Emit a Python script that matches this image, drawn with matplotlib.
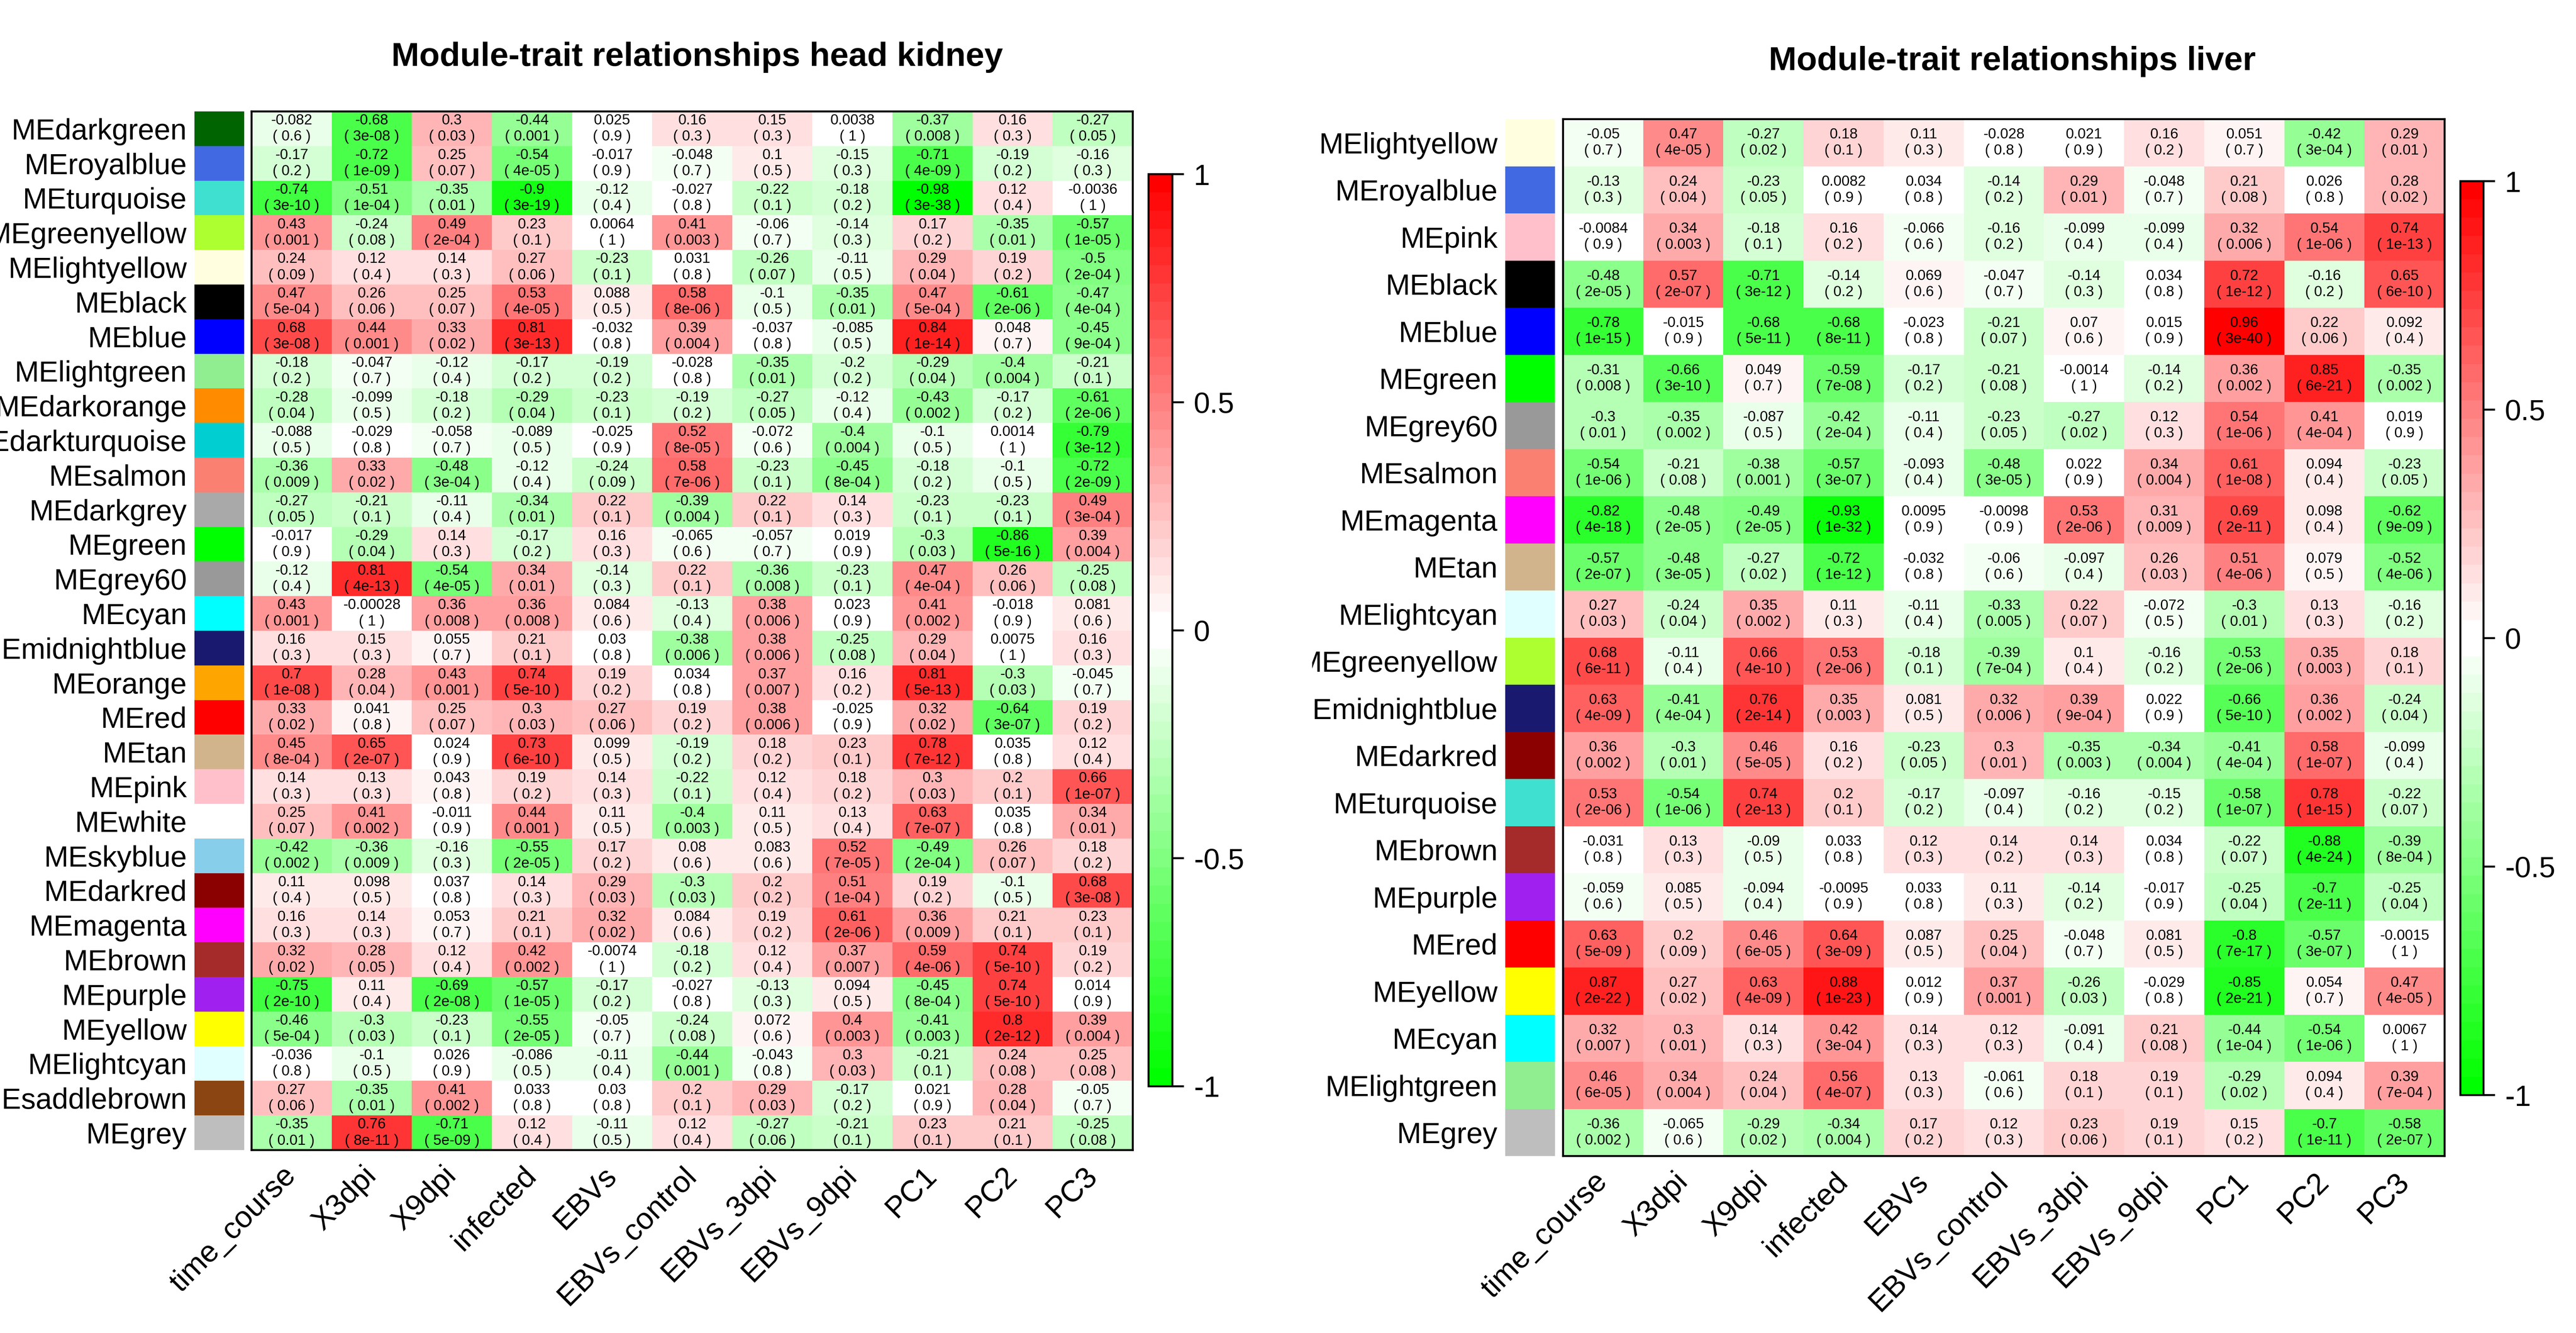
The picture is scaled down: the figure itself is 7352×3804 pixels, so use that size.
import numpy as np
import matplotlib
matplotlib.use("Agg")
import matplotlib.pyplot as plt
from matplotlib.colors import ListedColormap
from matplotlib.transforms import Bbox, TransformedBbox

plt.rcParams['font.family'] = ['Liberation Sans', 'DejaVu Sans']

traits = ["time_course", "X3dpi", "X9dpi", "infected", "EBVs", "EBVs_control",
          "EBVs_3dpi", "EBVs_9dpi", "PC1", "PC2", "PC3"]

# ---- head kidney ----
hk_modules = ["MEdarkgreen", "MEroyalblue", "MEturquoise", "MEgreenyellow", "MElightyellow",
              "MEblack", "MEblue", "MElightgreen", "MEdarkorange", "MEdarkturquoise",
              "MEsalmon", "MEdarkgrey", "MEgreen", "MEgrey60", "MEcyan", "MEmidnightblue",
              "MEorange", "MEred", "MEtan", "MEpink", "MEwhite", "MEskyblue", "MEdarkred",
              "MEmagenta", "MEbrown", "MEpurple", "MEyellow", "MElightcyan",
              "MEsaddlebrown", "MEgrey"]

hk_cor = [
    [-0.082, -0.68, 0.3, -0.44, 0.025, 0.16, 0.15, 0.0038, -0.37, 0.16, -0.27],
    [-0.17, -0.72, 0.25, -0.54, -0.017, -0.048, 0.1, -0.15, -0.71, -0.19, -0.16],
    [-0.74, -0.51, -0.35, -0.9, -0.12, -0.027, -0.22, -0.18, -0.98, 0.12, -0.0036],
    [0.43, -0.24, 0.49, 0.23, 0.0064, 0.41, -0.06, -0.14, 0.17, -0.35, -0.57],
    [0.24, 0.12, 0.14, 0.27, -0.23, 0.031, -0.26, -0.11, 0.29, 0.19, -0.5],
    [0.47, 0.26, 0.25, 0.53, 0.088, 0.58, -0.1, -0.35, 0.47, -0.61, -0.47],
    [0.68, 0.44, 0.33, 0.81, -0.032, 0.39, -0.037, -0.085, 0.84, 0.048, -0.45],
    [-0.18, -0.047, -0.12, -0.17, -0.19, -0.028, -0.35, -0.2, -0.29, -0.4, -0.21],
    [-0.28, -0.099, -0.18, -0.29, -0.23, -0.19, -0.27, -0.12, -0.43, -0.17, -0.61],
    [-0.088, -0.029, -0.058, -0.089, -0.025, 0.52, -0.072, -0.4, -0.1, 0.0014, -0.79],
    [-0.36, 0.33, -0.48, -0.12, -0.24, 0.58, -0.23, -0.45, -0.18, -0.1, -0.72],
    [-0.27, -0.21, -0.11, -0.34, 0.22, -0.39, 0.22, 0.14, -0.23, -0.23, 0.49],
    [-0.017, -0.29, 0.14, -0.17, 0.16, -0.065, -0.057, 0.019, -0.3, -0.86, 0.39],
    [-0.12, 0.81, -0.54, 0.34, -0.14, 0.22, -0.36, -0.23, 0.47, 0.26, -0.25],
    [0.43, -0.00028, 0.36, 0.36, 0.084, -0.13, 0.38, 0.023, 0.41, -0.018, 0.081],
    [0.16, 0.15, 0.055, 0.21, 0.03, -0.38, 0.38, -0.25, 0.29, 0.0075, 0.16],
    [0.7, 0.28, 0.43, 0.74, 0.19, 0.034, 0.37, 0.16, 0.81, -0.3, -0.045],
    [0.33, 0.041, 0.25, 0.3, 0.27, 0.19, 0.38, -0.025, 0.32, -0.64, 0.19],
    [0.45, 0.65, 0.024, 0.73, 0.099, -0.19, 0.18, 0.23, 0.78, 0.035, 0.12],
    [0.14, 0.13, 0.043, 0.19, 0.14, -0.22, 0.12, 0.18, 0.3, 0.2, 0.66],
    [0.25, 0.41, -0.011, 0.44, 0.11, -0.4, 0.11, 0.13, 0.63, 0.035, 0.34],
    [-0.42, -0.36, -0.16, -0.55, 0.17, 0.08, 0.083, 0.52, -0.49, 0.26, 0.18],
    [0.11, 0.098, 0.037, 0.14, 0.29, -0.3, 0.2, 0.51, 0.19, -0.1, 0.68],
    [0.16, 0.14, 0.053, 0.21, 0.32, 0.084, 0.19, 0.61, 0.36, 0.21, 0.23],
    [0.32, 0.28, 0.12, 0.42, -0.0074, -0.18, 0.12, 0.37, 0.59, 0.74, 0.19],
    [-0.75, 0.11, -0.69, -0.57, -0.17, -0.027, -0.13, 0.094, -0.45, 0.74, 0.014],
    [-0.46, -0.3, -0.23, -0.55, -0.05, -0.24, 0.072, 0.4, -0.41, 0.8, 0.39],
    [-0.036, -0.1, 0.026, -0.086, -0.11, -0.44, -0.043, 0.3, -0.21, 0.24, 0.25],
    [0.27, -0.35, 0.41, 0.033, 0.03, 0.2, 0.29, -0.17, 0.021, 0.28, -0.05],
    [-0.35, 0.76, -0.71, 0.12, -0.11, 0.12, -0.27, -0.21, 0.23, 0.21, -0.25],
]

hk_p = [
    [0.6, 3e-08, 0.03, 0.001, 0.9, 0.3, 0.3, 1, 0.008, 0.3, 0.05],
    [0.2, 1e-09, 0.07, 4e-05, 0.9, 0.7, 0.5, 0.3, 4e-09, 0.2, 0.3],
    [3e-10, 1e-04, 0.01, 3e-19, 0.4, 0.8, 0.1, 0.2, 3e-38, 0.4, 1],
    [0.001, 0.08, 2e-04, 0.1, 1, 0.003, 0.7, 0.3, 0.2, 0.01, 1e-05],
    [0.09, 0.4, 0.3, 0.06, 0.1, 0.8, 0.07, 0.5, 0.04, 0.2, 2e-04],
    [5e-04, 0.06, 0.07, 4e-05, 0.5, 8e-06, 0.5, 0.01, 5e-04, 2e-06, 4e-04],
    [3e-08, 0.001, 0.02, 3e-13, 0.8, 0.004, 0.8, 0.5, 1e-14, 0.7, 9e-04],
    [0.2, 0.7, 0.4, 0.2, 0.2, 0.8, 0.01, 0.2, 0.04, 0.004, 0.1],
    [0.04, 0.5, 0.2, 0.04, 0.1, 0.2, 0.05, 0.4, 0.002, 0.2, 2e-06],
    [0.5, 0.8, 0.7, 0.5, 0.9, 8e-05, 0.6, 0.004, 0.5, 1, 3e-12],
    [0.009, 0.02, 3e-04, 0.4, 0.09, 7e-06, 0.1, 8e-04, 0.2, 0.5, 2e-09],
    [0.05, 0.1, 0.4, 0.01, 0.1, 0.004, 0.1, 0.3, 0.1, 0.1, 3e-04],
    [0.9, 0.04, 0.3, 0.2, 0.3, 0.6, 0.7, 0.9, 0.03, 5e-16, 0.004],
    [0.4, 4e-13, 4e-05, 0.01, 0.3, 0.1, 0.008, 0.1, 4e-04, 0.06, 0.08],
    [0.001, 1, 0.008, 0.008, 0.6, 0.4, 0.006, 0.9, 0.002, 0.9, 0.6],
    [0.3, 0.3, 0.7, 0.1, 0.8, 0.006, 0.006, 0.08, 0.04, 1, 0.3],
    [1e-08, 0.04, 0.001, 5e-10, 0.2, 0.8, 0.007, 0.2, 5e-13, 0.03, 0.7],
    [0.02, 0.8, 0.07, 0.03, 0.06, 0.2, 0.006, 0.9, 0.02, 3e-07, 0.2],
    [8e-04, 2e-07, 0.9, 6e-10, 0.5, 0.2, 0.2, 0.1, 7e-12, 0.8, 0.4],
    [0.3, 0.3, 0.8, 0.2, 0.3, 0.1, 0.4, 0.2, 0.03, 0.1, 1e-07],
    [0.07, 0.002, 0.9, 0.001, 0.5, 0.003, 0.5, 0.4, 7e-07, 0.8, 0.01],
    [0.002, 0.009, 0.3, 2e-05, 0.2, 0.6, 0.6, 7e-05, 2e-04, 0.07, 0.2],
    [0.4, 0.5, 0.8, 0.3, 0.03, 0.03, 0.2, 1e-04, 0.2, 0.5, 3e-08],
    [0.3, 0.3, 0.7, 0.1, 0.02, 0.6, 0.2, 2e-06, 0.009, 0.1, 0.1],
    [0.02, 0.05, 0.4, 0.002, 1, 0.2, 0.4, 0.007, 4e-06, 5e-10, 0.2],
    [2e-10, 0.4, 2e-08, 1e-05, 0.2, 0.8, 0.3, 0.5, 8e-04, 5e-10, 0.9],
    [5e-04, 0.03, 0.1, 2e-05, 0.7, 0.08, 0.6, 0.003, 0.003, 2e-12, 0.004],
    [0.8, 0.5, 0.9, 0.5, 0.4, 0.001, 0.8, 0.03, 0.1, 0.08, 0.08],
    [0.06, 0.01, 0.002, 0.8, 0.8, 0.1, 0.03, 0.2, 0.9, 0.04, 0.7],
    [0.01, 8e-11, 5e-09, 0.4, 0.5, 0.4, 0.06, 0.1, 0.1, 0.1, 0.08],
]

# ---- liver ----
lv_modules = ["MElightyellow", "MEroyalblue", "MEpink", "MEblack", "MEblue", "MEgreen",
              "MEgrey60", "MEsalmon", "MEmagenta", "MEtan", "MElightcyan", "MEgreenyellow",
              "MEmidnightblue", "MEdarkred", "MEturquoise", "MEbrown", "MEpurple", "MEred",
              "MEyellow", "MEcyan", "MElightgreen", "MEgrey"]

lv_cor = [
    [-0.05, 0.47, -0.27, 0.18, 0.11, -0.028, 0.021, 0.16, 0.051, -0.42, 0.29],
    [-0.13, 0.24, -0.23, 0.0082, 0.034, -0.14, 0.29, -0.048, 0.21, 0.026, 0.28],
    [-0.0084, 0.34, -0.18, 0.16, -0.066, -0.16, -0.099, -0.099, 0.32, 0.54, 0.74],
    [-0.48, 0.57, -0.71, -0.14, 0.069, -0.047, -0.14, 0.034, 0.72, -0.16, 0.65],
    [-0.78, -0.015, -0.68, -0.68, -0.023, -0.21, 0.07, 0.015, 0.96, 0.22, 0.092],
    [-0.31, -0.66, 0.049, -0.59, -0.17, -0.21, -0.0014, -0.14, 0.36, 0.85, -0.35],
    [-0.3, -0.35, -0.087, -0.42, -0.11, -0.23, -0.27, 0.12, 0.54, 0.41, 0.019],
    [-0.54, -0.21, -0.38, -0.57, -0.093, -0.48, 0.022, 0.34, 0.61, 0.094, -0.23],
    [-0.82, -0.48, -0.49, -0.93, 0.0095, -0.0098, 0.53, 0.31, 0.69, 0.098, -0.62],
    [-0.57, -0.48, -0.27, -0.72, -0.032, -0.06, -0.097, 0.26, 0.51, 0.079, -0.52],
    [0.27, -0.24, 0.35, 0.11, -0.11, -0.33, 0.22, -0.072, -0.3, 0.13, -0.16],
    [0.68, -0.11, 0.66, 0.53, -0.18, -0.39, 0.1, -0.16, -0.53, 0.35, 0.18],
    [0.63, -0.41, 0.76, 0.35, 0.081, 0.32, 0.39, 0.022, -0.66, 0.36, -0.24],
    [0.36, -0.3, 0.46, 0.16, -0.23, 0.3, -0.35, -0.34, -0.41, 0.58, -0.099],
    [0.53, -0.54, 0.74, 0.2, -0.17, -0.097, -0.16, -0.15, -0.58, 0.78, -0.22],
    [-0.031, 0.13, -0.09, 0.033, 0.12, 0.14, 0.14, 0.034, -0.22, -0.88, -0.39],
    [-0.059, 0.085, -0.094, -0.0095, 0.033, 0.11, -0.14, -0.017, -0.25, -0.7, -0.25],
    [0.63, 0.2, 0.46, 0.64, 0.087, 0.25, -0.048, 0.081, -0.8, -0.57, -0.0015],
    [0.87, 0.27, 0.63, 0.88, 0.012, 0.37, -0.26, -0.029, -0.85, 0.054, 0.47],
    [0.32, 0.3, 0.14, 0.42, 0.14, 0.12, -0.091, 0.21, -0.44, -0.54, 0.0067],
    [0.46, 0.34, 0.24, 0.56, 0.13, -0.061, 0.18, 0.19, -0.29, 0.094, 0.39],
    [-0.36, -0.065, -0.29, -0.34, 0.17, 0.12, 0.23, 0.19, 0.15, -0.7, -0.58],
]

lv_p = [
    [0.7, 4e-05, 0.02, 0.1, 0.3, 0.8, 0.9, 0.2, 0.7, 3e-04, 0.01],
    [0.3, 0.04, 0.05, 0.9, 0.8, 0.2, 0.01, 0.7, 0.08, 0.8, 0.02],
    [0.9, 0.003, 0.1, 0.2, 0.6, 0.2, 0.4, 0.4, 0.006, 1e-06, 1e-13],
    [2e-05, 2e-07, 3e-12, 0.2, 0.6, 0.7, 0.3, 0.8, 1e-12, 0.2, 6e-10],
    [1e-15, 0.9, 5e-11, 8e-11, 0.8, 0.07, 0.6, 0.9, 3e-40, 0.06, 0.4],
    [0.008, 3e-10, 0.7, 7e-08, 0.2, 0.08, 1, 0.2, 0.002, 6e-21, 0.002],
    [0.01, 0.002, 0.5, 2e-04, 0.4, 0.05, 0.02, 0.3, 1e-06, 4e-04, 0.9],
    [1e-06, 0.08, 0.001, 3e-07, 0.4, 3e-05, 0.9, 0.004, 1e-08, 0.4, 0.05],
    [4e-18, 2e-05, 2e-05, 1e-32, 0.9, 0.9, 2e-06, 0.009, 2e-11, 0.4, 9e-09],
    [2e-07, 3e-05, 0.02, 1e-12, 0.8, 0.6, 0.4, 0.03, 4e-06, 0.5, 4e-06],
    [0.03, 0.04, 0.002, 0.3, 0.4, 0.005, 0.07, 0.5, 0.01, 0.3, 0.2],
    [6e-11, 0.4, 4e-10, 2e-06, 0.1, 7e-04, 0.4, 0.2, 2e-06, 0.003, 0.1],
    [4e-09, 4e-04, 2e-14, 0.003, 0.5, 0.006, 9e-04, 0.9, 5e-10, 0.002, 0.04],
    [0.002, 0.01, 5e-05, 0.2, 0.05, 0.01, 0.003, 0.004, 4e-04, 1e-07, 0.4],
    [2e-06, 1e-06, 2e-13, 0.1, 0.2, 0.4, 0.2, 0.2, 1e-07, 1e-15, 0.07],
    [0.8, 0.3, 0.5, 0.8, 0.3, 0.2, 0.3, 0.8, 0.07, 4e-24, 8e-04],
    [0.6, 0.5, 0.4, 0.9, 0.8, 0.3, 0.2, 0.9, 0.04, 2e-11, 0.04],
    [5e-09, 0.09, 6e-05, 3e-09, 0.5, 0.04, 0.7, 0.5, 7e-17, 3e-07, 1],
    [2e-22, 0.02, 4e-09, 1e-23, 0.9, 0.001, 0.03, 0.8, 2e-21, 0.7, 4e-05],
    [0.007, 0.01, 0.3, 3e-04, 0.3, 0.3, 0.4, 0.08, 1e-04, 1e-06, 1],
    [6e-05, 0.004, 0.04, 4e-07, 0.3, 0.6, 0.1, 0.1, 0.02, 0.4, 7e-04],
    [0.002, 0.6, 0.02, 0.004, 0.2, 0.3, 0.06, 0.1, 0.2, 1e-11, 2e-07],
]

# R colour names used by the module eigengenes
R_COLORS = {
    "darkgreen": "#006400", "royalblue": "#4169E1", "turquoise": "#40E0D0",
    "greenyellow": "#ADFF2F", "lightyellow": "#FFFFE0", "black": "#000000",
    "blue": "#0000FF", "lightgreen": "#90EE90", "darkorange": "#FF8C00",
    "darkturquoise": "#00CED1", "salmon": "#FA8072", "darkgrey": "#A9A9A9",
    "green": "#00FF00", "grey60": "#999999", "cyan": "#00FFFF",
    "midnightblue": "#191970", "orange": "#FFA500", "red": "#FF0000",
    "tan": "#D2B48C", "pink": "#FFC0CB", "white": "#FFFFFF", "skyblue": "#87CEEB",
    "darkred": "#8B0000", "magenta": "#FF00FF", "brown": "#A52A2A",
    "purple": "#A020F0", "yellow": "#FFFF00", "lightcyan": "#E0FFFF",
    "saddlebrown": "#8B4513", "grey": "#BEBEBE",
}

# green-white-red palette with 50 steps (like WGCNA greenWhiteRed(50))
half = 25
ramp = np.linspace(0, 1, half)
red = np.concatenate([ramp, np.ones(half)])
green = np.concatenate([np.ones(half), ramp[::-1]])
blue = np.concatenate([ramp, ramp[::-1]])
cmap = ListedColormap(np.column_stack([red, green, blue]))

W, H = 7352, 3804
DPI = 400
fig = plt.figure(figsize=(W / DPI, H / DPI), dpi=DPI)


def px_axes(x0, y0, x1, y1):
    return fig.add_axes([x0 / W, 1 - y1 / H, (x1 - x0) / W, (y1 - y0) / H])


def r_num(v):
    fixed = np.format_float_positional(v, trim='-')
    sci = np.format_float_scientific(v, trim='-', exp_digits=2)
    return sci if len(sci) < len(fixed) else fixed


def draw_panel(modules, cor, pval, title, hm_box, sw_box, cb_box, title_xy, clip_x=None):
    cor = np.array(cor)
    pval = np.array(pval)
    n, m = cor.shape

    ax = px_axes(*hm_box)
    mesh = ax.pcolormesh(np.arange(m + 1), np.arange(n + 1), cor, cmap=cmap,
                         vmin=-1, vmax=1, edgecolors='none', antialiased=False)
    ax.set_xlim(0, m)
    ax.set_ylim(n, 0)
    for i in range(n):
        for j in range(m):
            ax.text(j + 0.5, i + 0.5, f"{r_num(cor[i, j])}\n( {r_num(pval[i, j])} )",
                    ha='center', va='center', fontsize=7.5, linespacing=1.2)
    ax.set_yticks([])
    ax.set_xticks(np.arange(m) + 0.5, traits)
    ax.tick_params(axis='x', length=0, pad=11, labelsize=15.5)
    for t in ax.get_xticklabels():
        t.set_rotation(45)
        t.set_ha('right')
        t.set_va('center')
        t.set_rotation_mode('anchor')
    for s in ax.spines.values():
        s.set_linewidth(1.0)

    sw = px_axes(*sw_box)
    sw.barh(np.arange(n), 1, height=1.0,
            color=[R_COLORS[name[2:]] for name in modules], edgecolor='none')
    sw.set_xlim(0, 1)
    sw.set_ylim(n - 0.5, -0.5)
    sw.set_xticks([])
    sw.set_yticks(np.arange(n), modules)
    sw.tick_params(axis='y', length=0, pad=4, labelsize=15)
    for s in sw.spines.values():
        s.set_visible(False)
    if clip_x is not None:
        clip = TransformedBbox(Bbox([[clip_x / W, 0], [1, 1]]), fig.transFigure)
        for t in sw.get_yticklabels():
            t.set_clip_box(clip)
            t.set_clip_on(True)

    cax = px_axes(*cb_box)
    cb = fig.colorbar(mesh, cax=cax, ticks=[-1, -0.5, 0, 0.5, 1])
    cb.ax.set_yticklabels(["-1", "-0.5", "0", "0.5", "1"])
    cb.ax.tick_params(length=6, width=1.0, pad=5, labelsize=15)
    cb.outline.set_linewidth(1.0)

    fig.text(title_xy[0] / W, 1 - title_xy[1] / H, title, ha='center', va='center',
             fontsize=17.2, fontweight='bold')


draw_panel(hk_modules, hk_cor, hk_p, "Module-trait relationships head kidney",
           (718, 318, 3233, 3282), (555, 318, 697, 3282), (3278, 497, 3346, 3100),
           (1990, 163))
draw_panel(lv_modules, lv_cor, lv_p, "Module-trait relationships liver",
           (4461, 340, 6977, 3299), (4296, 340, 4438, 3299), (7022, 517, 7088, 3125),
           (5743, 175), clip_x=3745)

fig.savefig("out.png", dpi=DPI)
